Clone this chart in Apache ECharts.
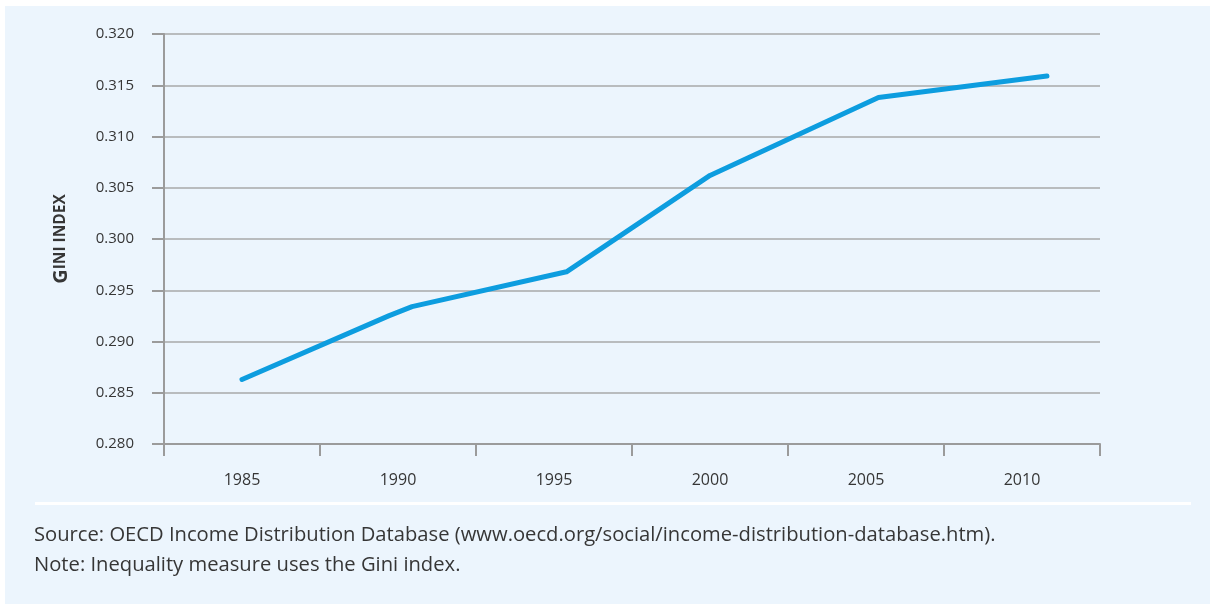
<!DOCTYPE html>
<html>
<head>
<meta charset="utf-8">
<style>
  html, body { margin: 0; padding: 0; background: #ffffff; }
  #chart { width: 1215px; height: 606px; }
</style>
<script src="https://cdn.jsdelivr.net/npm/echarts@6/dist/echarts.min.js"></script>
</head>
<body>
<div id="chart"></div>
<script>
// Year labels shown under the axis (one band per label)
const yearLabels = ['1985', '1990', '1995', '2000', '2005', '2010'];
// Survey years (placed on a continuous time scale) and the OECD average Gini index
const surveyYears = [1985.0, 1989.7, 1990.45, 1995.4, 2000.0, 2005.4, 2010.8];
const giniValues = [0.2863, 0.2925, 0.2934, 0.2968, 0.3062, 0.3138, 0.3159];
// Vertical scale
const yMin = 0.280, yMax = 0.320, yStep = 0.005;

const sourceText = 'Source: OECD Income Distribution Database (www.oecd.org/social/income-distribution-database.htm).';
const noteText = 'Note: Inequality measure uses the Gini index.';

const FONT = '"Open Sans", "Noto Sans", sans-serif';
const AXIS_GREY = '#9b9b9b';
const TEXT = '#363636';

const chart = echarts.init(document.getElementById('chart'), null, { renderer: 'canvas' });

chart.setOption({
  backgroundColor: '#ffffff',
  animation: false,
  graphic: [
    { type: 'rect', z: -10, shape: { x: 5, y: 6, width: 1205, height: 598 }, style: { fill: '#ecf5fd' } },
    { type: 'rect', z: -9, shape: { x: 35, y: 502, width: 1156, height: 3 }, style: { fill: '#ffffff' } },
    { type: 'text', left: 34, top: 525, style: { text: sourceText, font: '20.2px ' + FONT, fill: TEXT } },
    { type: 'text', left: 34, top: 555, style: { text: noteText, font: '20.2px ' + FONT, fill: TEXT } }
  ],
  grid: { left: 164, right: 115, top: 34, bottom: 162, containLabel: false },
  xAxis: [
    {
      type: 'category',
      data: yearLabels,
      boundaryGap: true,
      axisLine: { lineStyle: { color: AXIS_GREY, width: 2 } },
      axisTick: { show: true, length: 12, lineStyle: { color: AXIS_GREY, width: 2 } },
      axisLabel: { margin: 28, fontSize: 16, fontFamily: FONT, color: TEXT },
      splitLine: { show: false }
    },
    {
      type: 'value',
      min: 1982.5,
      max: 2012.5,
      show: false,
      splitLine: { show: false }
    }
  ],
  yAxis: {
    type: 'value',
    min: yMin,
    max: yMax,
    interval: yStep,
    name: '{big|G}{small|INI INDEX}',
    nameLocation: 'middle',
    nameRotate: 90,
    nameGap: 93,
    nameTextStyle: {
      rich: {
        big: { fontSize: 20, fontWeight: 'bold', fontFamily: FONT, color: TEXT },
        small: { fontSize: 15.5, fontWeight: 'bold', fontFamily: FONT, color: TEXT }
      }
    },
    axisLine: { show: true, lineStyle: { color: AXIS_GREY, width: 2 } },
    axisTick: { show: true, length: 12, lineStyle: { color: AXIS_GREY, width: 2 } },
    axisLabel: {
      margin: 30,
      fontSize: 15,
      fontFamily: FONT,
      color: TEXT,
      formatter: v => v.toFixed(3)
    },
    splitLine: { show: true, lineStyle: { color: '#a9a9a9', width: 1.5 } }
  },
  series: [
    {
      type: 'line',
      xAxisIndex: 1,
      data: surveyYears.map((yr, i) => [yr, giniValues[i]]),
      showSymbol: false,
      symbol: 'none',
      lineStyle: { color: '#0d9ddf', width: 5, cap: 'round', join: 'round' }
    }
  ]
});
</script>
</body>
</html>
